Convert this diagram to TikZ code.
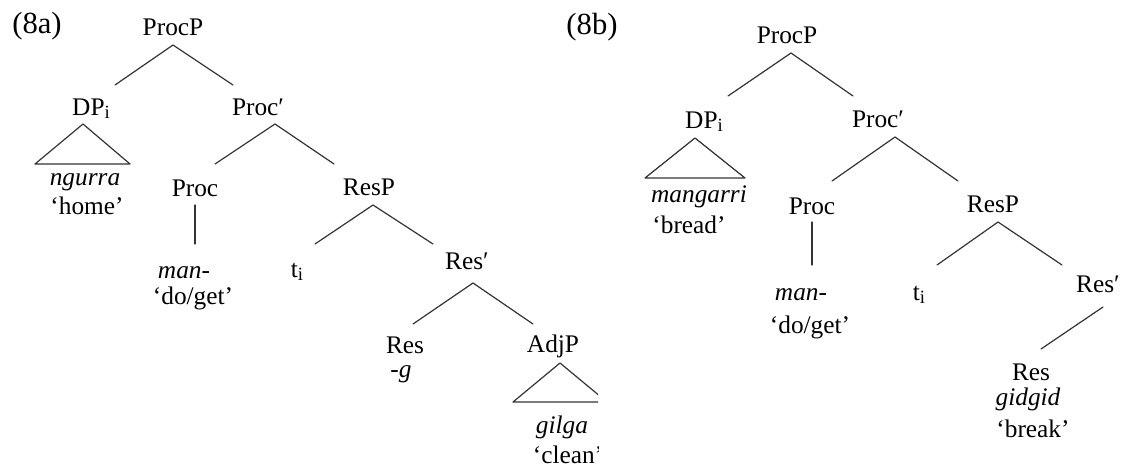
\documentclass[tikz,border=0pt]{standalone}
\usepackage{fontspec}
\setmainfont{Liberation Serif}
\usetikzlibrary{calc}
\newcommand\mysubi{\raisebox{-2.5pt}{\fontsize{14}{14}\selectfont i}}
\tikzset{
  lab/.style={anchor=base, inner sep=0pt, font=\fontsize{19}{22}\selectfont},
  ilab/.style={anchor=base, inner sep=0pt, font=\fontsize{19}{22}\selectfont\itshape},
  num/.style={anchor=base, inner sep=0pt, font=\fontsize{23}{27}\selectfont},
  br/.style={line width=0.9pt, draw=black!80, line cap=round, line join=round},
}
\begin{document}
\begin{tikzpicture}[x=0.75pt,y=-0.75pt]
\useasboundingbox (0,0) rectangle (1130,468);
% ---------------- (8a) ----------------
\node[num] (lbl8a) at (37,33) {(8a)};
\begin{scope}
\clip (0,0) rectangle (598,468);
\node[lab]  (pA)   at (173,35)  {ProcP};
\node[lab]  (dpA)  at (91,115)  {DP\mysubi};
\node[lab]  (pbA)  at (258,115) {Proc′};
\node[ilab] (ngA)  at (85,185)  {ngurra};
\node[lab]  (homeA) at (87,214) {‘home’};
\node[lab]  (prA)  at (195,196) {Proc};
\node[ilab] (manA) at (184,278) {man-};
\node[lab]  (dgA)  at (193,304) {‘do/get’};
\node[lab]  (rpA)  at (369,195) {ResP};
\node[lab]  (tA)   at (297,277) {t\mysubi};
\node[lab]  (rbA)  at (467,269) {Res′};
\node[lab]  (rA)   at (405,353) {Res};
\node[lab]  (gA)   at (401,377) {-\textit{g}};
\node[lab]  (ajA)  at (553,352) {AdjP};
\node[ilab] (gilA) at (562,433) {gilga};
\node[lab]  (clA)  at (568,463) {‘clean’};
% branches
\draw[br] ($(pA.base)+(0,10)$) -- ($(dpA.base)+(24,-30)$);
\draw[br] ($(pA.base)+(0,10)$) -- ($(pbA.base)+(-25,-30)$);
\draw[br] ($(dpA.base)+(-8,9)$) -- ($(ngA.base)+(-50,-21)$) -- ($(ngA.base)+(45,-21)$) -- cycle;
\draw[br] ($(pbA.base)+(17,9)$) -- ($(prA.base)+(20,-32)$);
\draw[br] ($(pbA.base)+(17,9)$) -- ($(rpA.base)+(-35,-31)$);
\draw[br] ($(prA.base)+(0,9)$) -- ($(prA.base |- manA.base)+(0,-34)$);
\draw[br] ($(rpA.base)+(4,10)$) -- ($(tA.base)+(18,-33)$);
\draw[br] ($(rpA.base)+(4,10)$) -- ($(rbA.base)+(-34,-25)$);
\draw[br] ($(rbA.base)+(6,14)$) -- ($(rA.base)+(8,-29)$);
\draw[br] ($(rbA.base)+(6,14)$) -- ($(ajA.base)+(-20,-28)$);
\draw[br] ($(ajA.base)+(7,11)$) -- ($(gilA.base)+(-49,-31)$) -- ($(gilA.base)+(45,-31)$) -- cycle;
\end{scope}
% ---------------- (8b) ----------------
\node[num]  (lbl8b) at (592,34) {(8b)};
\node[lab]  (pB)   at (787,43)  {ProcP};
\node[lab]  (dpB)  at (704,128) {DP\mysubi};
\node[lab]  (pbB)  at (878,127) {Proc′};
\node[ilab] (mgB)  at (699,202) {mangarri};
\node[lab]  (brB)  at (689,233) {‘bread’};
\node[lab]  (prB)  at (812,214) {Proc};
\node[ilab] (manB) at (801,300) {man-};
\node[lab]  (dgB)  at (810,333) {‘do/get’};
\node[lab]  (rpB)  at (993,212) {ResP};
\node[lab]  (tB)   at (919,300) {t\mysubi};
\node[lab]  (rbB)  at (1098,292) {Res′};
\node[lab]  (rB)   at (1031,380) {Res};
\node[ilab] (gdB)  at (1028,405) {gidgid};
\node[lab]  (bkB)  at (1033,437) {‘break’};
% branches
\draw[br] ($(pB.base)+(4,10)$) -- ($(dpB.base)+(24,-32)$);
\draw[br] ($(pB.base)+(4,10)$) -- ($(pbB.base)+(-25,-31)$);
\draw[br] ($(dpB.base)+(-9,10)$) -- ($(mgB.base)+(-54,-24)$) -- ($(mgB.base)+(46,-24)$) -- cycle;
\draw[br] ($(pbB.base)+(17,10)$) -- ($(prB.base)+(20,-33)$);
\draw[br] ($(pbB.base)+(17,10)$) -- ($(rpB.base)+(-35,-31)$);
\draw[br] ($(prB.base)+(0,8)$) -- ($(prB.base |- manB.base)+(0,-35)$);
\draw[br] ($(rpB.base)+(5,10)$) -- ($(tB.base)+(18,-35)$);
\draw[br] ($(rpB.base)+(5,10)$) -- ($(rbB.base)+(-36,-27)$);
\draw[br] ($(rbB.base)+(5,15)$) -- ($(rB.base)+(10,-31)$);
\end{tikzpicture}
\end{document}
